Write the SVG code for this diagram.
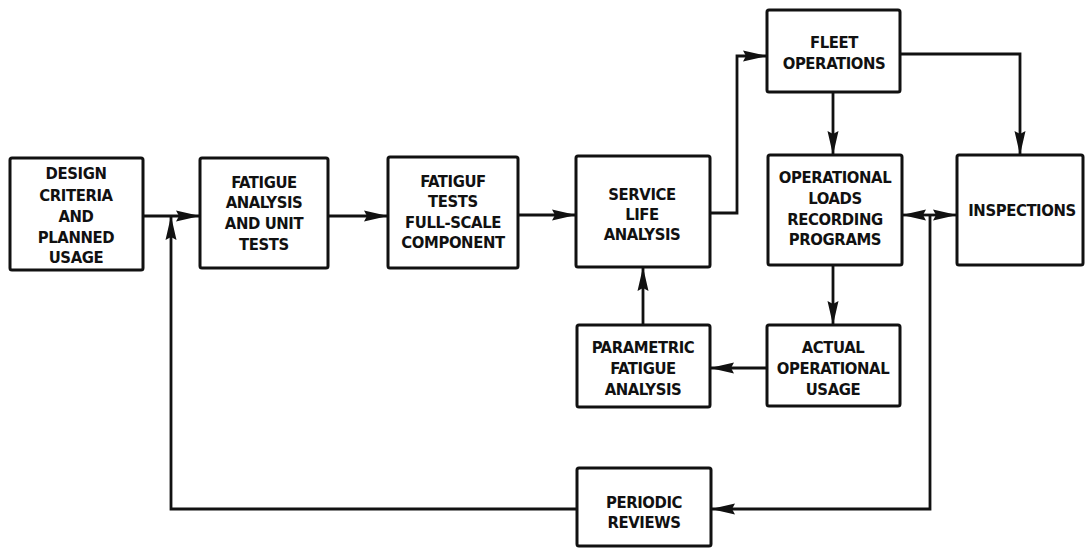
<svg xmlns="http://www.w3.org/2000/svg" width="1085" height="548" viewBox="0 0 1085 548">
<style>
.box{fill:#fff;stroke:#111;stroke-width:3}
.lbl{font-family:"DejaVu Sans Condensed","DejaVu Sans",sans-serif;font-weight:bold;font-size:16.5px;letter-spacing:-0.4px;fill:#111;text-anchor:middle}
.ln{fill:none;stroke:#111;stroke-width:2.8;marker-end:url(#ah)}
</style>
<defs>
<marker id="ah" markerUnits="userSpaceOnUse" markerWidth="25" markerHeight="13" refX="24" refY="6.5" orient="auto">
<path d="M0,1 L24,6.5 L0,12 L3,6.5 z" fill="#111"/>
</marker>
</defs>
<rect width="1085" height="548" fill="#fff"/>
<g id="connectors">
<path class="ln" d="M143,216 H200"/>
<path class="ln" d="M328,216 H388"/>
<path class="ln" d="M518,215 H576"/>
<path class="ln" d="M710,213 H737 V56 H767"/>
<path class="ln" d="M833,92 V155"/>
<path class="ln" d="M900,54 H1020 V155"/>
<path class="ln" d="M833,265 V325"/>
<path class="ln" d="M767,368 H710"/>
<path class="ln" d="M643,325 V267"/>
<path class="ln" d="M930,215 H902"/>
<path class="ln" d="M930,215 H957"/>
<path class="ln" d="M930,215 V509 H711"/>
<path class="ln" d="M577,509 H171 V216"/>
</g>
<g id="design">
<rect class="box" x="10" y="158" width="133" height="112" rx="2"/>
<text class="lbl" x="76" y="179">DESIGN</text>
<text class="lbl" x="76" y="201">CRITERIA</text>
<text class="lbl" x="76" y="222">AND</text>
<text class="lbl" x="76" y="243">PLANNED</text>
<text class="lbl" x="76" y="263">USAGE</text>
</g>
<g id="fatigue-analysis">
<rect class="box" x="200" y="158" width="128" height="110" rx="2"/>
<text class="lbl" x="264" y="188">FATIGUE</text>
<text class="lbl" x="264" y="208">ANALYSIS</text>
<text class="lbl" x="264" y="229">AND UNIT</text>
<text class="lbl" x="264" y="250">TESTS</text>
</g>
<g id="fatigue-tests">
<rect class="box" x="388" y="157" width="130" height="111" rx="2"/>
<text class="lbl" x="453" y="187">FATIGUF</text>
<text class="lbl" x="453" y="207">TESTS</text>
<text class="lbl" x="453" y="228">FULL-SCALE</text>
<text class="lbl" x="453" y="248">COMPONENT</text>
</g>
<g id="service-life">
<rect class="box" x="576" y="156" width="134" height="111" rx="2"/>
<text class="lbl" x="642" y="200">SERVICE</text>
<text class="lbl" x="642" y="220">LIFE</text>
<text class="lbl" x="642" y="240">ANALYSIS</text>
</g>
<g id="fleet">
<rect class="box" x="767" y="10" width="133" height="82" rx="2"/>
<text class="lbl" x="834" y="48">FLEET</text>
<text class="lbl" x="834" y="69">OPERATIONS</text>
</g>
<g id="loads">
<rect class="box" x="768" y="155" width="134" height="110" rx="2"/>
<text class="lbl" x="835" y="183">OPERATIONAL</text>
<text class="lbl" x="835" y="204">LOADS</text>
<text class="lbl" x="835" y="225">RECORDING</text>
<text class="lbl" x="835" y="245">PROGRAMS</text>
</g>
<g id="inspections">
<rect class="box" x="957" y="155" width="126" height="110" rx="2"/>
<text class="lbl" x="1022" y="216">INSPECTIONS</text>
</g>
<g id="parametric">
<rect class="box" x="577" y="325" width="133" height="82" rx="2"/>
<text class="lbl" x="643" y="353">PARAMETRIC</text>
<text class="lbl" x="643" y="374">FATIGUE</text>
<text class="lbl" x="643" y="395">ANALYSIS</text>
</g>
<g id="actual">
<rect class="box" x="767" y="325" width="133" height="81" rx="2"/>
<text class="lbl" x="833" y="353">ACTUAL</text>
<text class="lbl" x="833" y="374">OPERATIONAL</text>
<text class="lbl" x="833" y="395">USAGE</text>
</g>
<g id="periodic">
<rect class="box" x="577" y="468" width="134" height="78" rx="2"/>
<text class="lbl" x="644" y="508">PERIODIC</text>
<text class="lbl" x="644" y="528">REVIEWS</text>
</g>
</svg>
